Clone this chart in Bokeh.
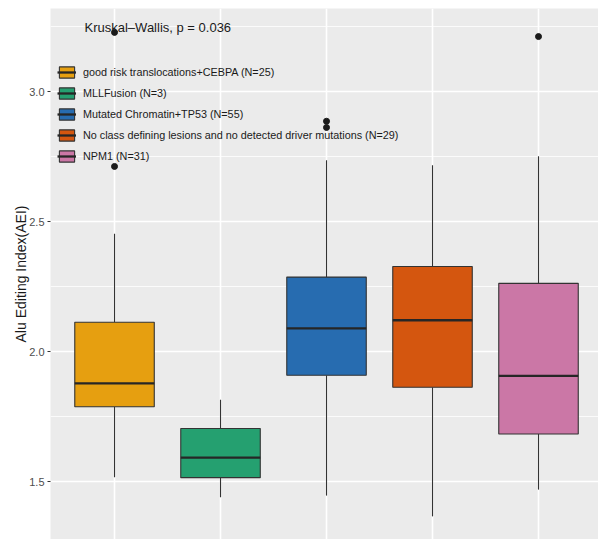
from bokeh.plotting import figure
from bokeh.models import (Range1d, FixedTicker, Legend, LegendItem, Label,
                          ColumnDataSource, PrintfTickFormatter)
from bokeh.embed import file_html
from bokeh.resources import INLINE

categories = [
    "good risk translocations+CEBPA (N=25)",
    "MLLFusion (N=3)",
    "Mutated Chromatin+TP53 (N=55)",
    "No class defining lesions and no detected driver mutations (N=29)",
    "NPM1 (N=31)",
]
colors = ["#E69F10", "#25A070", "#276CB0", "#D4560F", "#CB77A6"]
lower = [1.517, 1.440, 1.446, 1.366, 1.469]
q1 = [1.788, 1.515, 1.909, 1.863, 1.683]
median = [1.878, 1.592, 2.090, 2.121, 1.907]
q3 = [2.113, 1.704, 2.287, 2.328, 2.263]
upper = [2.454, 1.815, 2.737, 2.718, 2.752]
outlier_group = [1, 1, 3, 3, 5]
outlier_value = [3.229, 2.713, 2.887, 2.863, 3.213]
y_ticks = [1.5, 2.0, 2.5, 3.0]
y_minor = [1.25, 1.75, 2.25, 2.75, 3.25]
title_text = "Kruskal\u2013Wallis, p = 0.036"
y_label = "Alu Editing Index(AEI)"

FONT = "Liberation Sans"
BOX_W = 0.75

p = figure(width=598, height=539, output_backend="svg", toolbar_location=None,
           x_range=Range1d(0.396, 5.566), y_range=Range1d(1.277, 3.321),
           min_border_left=50, min_border_right=0, min_border_top=8,
           min_border_bottom=0)
p.background_fill_color = "#EBEBEB"
p.border_fill_color = "white"
p.outline_line_color = None
p.xaxis.visible = False

xs = [i + 1 for i in range(len(categories))]

# grids
p.xgrid.ticker = FixedTicker(ticks=xs)
p.xgrid.grid_line_color = "white"
p.xgrid.grid_line_width = 1.6
yt = FixedTicker(ticks=y_ticks, minor_ticks=y_minor)
p.yaxis.ticker = yt
p.ygrid.ticker = yt
p.ygrid.grid_line_color = "white"
p.ygrid.grid_line_width = 1.6
p.ygrid.minor_grid_line_color = "white"
p.ygrid.minor_grid_line_width = 0.8

# y axis styling
ax = p.yaxis[0]
ax.formatter = PrintfTickFormatter(format="%.1f")
ax.axis_line_color = None
ax.major_tick_out = 3
ax.major_tick_in = 0
ax.minor_tick_out = 0
ax.minor_tick_in = 0
ax.major_tick_line_color = "#333333"
ax.major_label_text_font = FONT
ax.major_label_text_font_size = "11px"
ax.major_label_text_color = "#4D4D4D"
ax.major_label_standoff = 3
ax.axis_label = y_label
ax.axis_label_text_font = FONT
ax.axis_label_text_font_size = "14px"
ax.axis_label_text_font_style = "normal"
ax.axis_label_text_color = "#1A1A1A"
ax.axis_label_standoff = -3

src = ColumnDataSource(dict(x=xs, lower=lower, q1=q1, median=median, q3=q3,
                            upper=upper, color=colors, cat=categories))

# whiskers
p.segment(x0="x", y0="q3", x1="x", y1="upper", source=src,
          line_color="#333333", line_width=1.1)
p.segment(x0="x", y0="lower", x1="x", y1="q1", source=src,
          line_color="#333333", line_width=1.1)

items = []
for i, cat in enumerate(categories):
    s = ColumnDataSource(dict(x=[xs[i]], q1=[q1[i]], q3=[q3[i]], med=[median[i]],
                              left=[xs[i] - BOX_W / 2], right=[xs[i] + BOX_W / 2]))
    b = p.vbar(x="x", width=BOX_W, bottom="q1", top="q3", source=s,
               fill_color=colors[i], line_color="#333333", line_width=1.1)
    m = p.segment(x0="left", y0="med", x1="right", y1="med", source=s,
                  line_color="#262626", line_width=2.3)
    items.append(LegendItem(label=cat, renderers=[b, m]))

# outliers
osrc = ColumnDataSource(dict(x=outlier_group, y=outlier_value))
p.scatter(x="x", y="y", source=osrc, size=6, color="#1A1A1A")

legend = Legend(items=items, location=(7, 376), orientation="vertical",
                glyph_width=19, glyph_height=14, spacing=7, padding=0,
                margin=0, label_standoff=7, label_text_font=FONT,
                label_text_font_size="10.8px", label_text_color="#1A1A1A",
                label_height=14,
                background_fill_alpha=0, border_line_color=None)
p.add_layout(legend, "center")

lab = Label(x=0.717, y=3.248, text=title_text, text_font=FONT,
            text_font_size="13px", text_color="#1A1A1A",
            text_baseline="middle", text_align="left")
p.add_layout(lab)

open("out.html", "w").write(file_html(p, INLINE))
